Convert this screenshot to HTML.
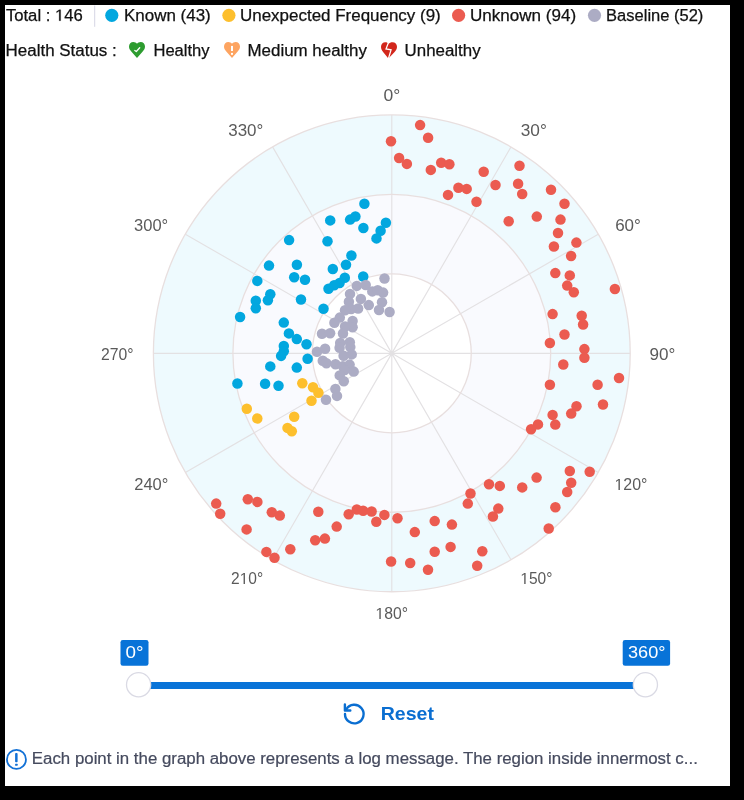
<!DOCTYPE html>
<html><head><meta charset="utf-8"><title>Log polar chart</title>
<style>
html,body{margin:0;padding:0;background:#000;width:744px;height:800px;overflow:hidden}
svg{display:block;font-family:"Liberation Sans",sans-serif;will-change:transform}
</style></head>
<body>
<svg width="744" height="800" viewBox="0 0 744 800">
<rect x="0" y="0" width="744" height="800" fill="#000"/>
<rect x="5" y="5" width="725" height="781" fill="#fff"/>
<line x1="94.7" y1="5.5" x2="94.7" y2="26.8" stroke="#d6d6e4" stroke-width="1"/>
<circle cx="111.8" cy="15.3" r="6.6" fill="#02a7df"/>
<circle cx="228.9" cy="15.3" r="6.6" fill="#fdbf2d"/>
<circle cx="458.6" cy="15.3" r="6.6" fill="#eb5b50"/>
<circle cx="594.5" cy="15.3" r="6.6" fill="#acacc4"/>
<g transform="translate(129 41.9)"><path d="M8 16.1 L2.3 9.6 C0.9 8.1 0 6.6 0 4.6 C0 1.9 1.9 0 4.3 0 C5.9 0 7.2 0.7 8 1.8 C8.8 0.7 10.1 0 11.7 0 C14.1 0 16 1.9 16 4.6 C16 6.6 15.1 8.1 13.7 9.6 Z" fill="#2d9c30"/><path d="M5.8 8.6 L7.3 9.6 L10.7 5.9" stroke="#fff" stroke-width="1.3" fill="none" stroke-linecap="round" stroke-linejoin="round"/></g><g transform="translate(224 41.9)"><path d="M8 16.1 L2.3 9.6 C0.9 8.1 0 6.6 0 4.6 C0 1.9 1.9 0 4.3 0 C5.9 0 7.2 0.7 8 1.8 C8.8 0.7 10.1 0 11.7 0 C14.1 0 16 1.9 16 4.6 C16 6.6 15.1 8.1 13.7 9.6 Z" fill="#fda461"/><rect x="7" y="4.0" width="2" height="5.1" fill="#fff"/><rect x="7" y="11.0" width="2" height="1.9" fill="#fff"/></g><g transform="translate(381 42.2)"><path d="M7.4 16.2 L2.1 9.7 C0.8 8.1 0 6.6 0 4.6 C0 1.9 1.9 0 4.3 0 C5.8 0 6.9 0.6 7.6 1.6 C8.4 0.6 9.8 0 11.6 0 C14.1 0 16 1.9 16 4.6 C16 6.6 15.1 8.2 13.6 9.8 Z" fill="#d2271c"/><path d="M7.4 0.6 L5.0 6.7 L10.1 7.6 L7.3 16.8" stroke="#fff" stroke-width="1.25" fill="none" stroke-linejoin="miter"/></g>
<circle cx="391.8" cy="353.35" r="238.4" fill="#eefafe"/>
<circle cx="391.8" cy="353.35" r="158.9" fill="#f9fafe"/>
<circle cx="391.8" cy="353.35" r="79.45" fill="#ffffff"/>
<path d="M391.8 353.35L391.8 114.95M391.8 353.35L511 146.89M391.8 353.35L598.26 234.15M391.8 353.35L630.2 353.35M391.8 353.35L598.26 472.55M391.8 353.35L511 559.81M391.8 353.35L391.8 591.75M391.8 353.35L272.6 559.81M391.8 353.35L185.34 472.55M391.8 353.35L153.4 353.35M391.8 353.35L185.34 234.15M391.8 353.35L272.6 146.89" stroke="#e3e1e3" stroke-width="1.15" fill="none"/>
<circle cx="391.8" cy="353.35" r="79.45" fill="none" stroke="#e8dfdf" stroke-width="1.3"/>
<circle cx="391.8" cy="353.35" r="158.9" fill="none" stroke="#e8dfdf" stroke-width="1.3"/>
<circle cx="391.8" cy="353.35" r="238.4" fill="none" stroke="#e8dfdf" stroke-width="1.3"/>
<g fill="#eb5b50"><circle cx="420.1" cy="125.1" r="5.25"/><circle cx="428.1" cy="137.8" r="5.25"/><circle cx="391" cy="141.3" r="5.25"/><circle cx="399.1" cy="158" r="5.25"/><circle cx="406.9" cy="163.9" r="5.25"/><circle cx="430.8" cy="169.9" r="5.25"/><circle cx="441.2" cy="162.8" r="5.25"/><circle cx="449.4" cy="164.3" r="5.25"/><circle cx="458.4" cy="187.7" r="5.25"/><circle cx="466.7" cy="188.9" r="5.25"/><circle cx="448" cy="194.9" r="5.25"/><circle cx="476.5" cy="201.7" r="5.25"/><circle cx="483.7" cy="171.7" r="5.25"/><circle cx="495.5" cy="185" r="5.25"/><circle cx="519.5" cy="165.8" r="5.25"/><circle cx="518.1" cy="183.7" r="5.25"/><circle cx="522.2" cy="194" r="5.25"/><circle cx="508.7" cy="221.2" r="5.25"/><circle cx="536.8" cy="216.6" r="5.25"/><circle cx="551" cy="189.7" r="5.25"/><circle cx="564.5" cy="203.8" r="5.25"/><circle cx="560.5" cy="219.6" r="5.25"/><circle cx="558" cy="233" r="5.25"/><circle cx="553.9" cy="246.5" r="5.25"/><circle cx="576.4" cy="242.6" r="5.25"/><circle cx="571.1" cy="256" r="5.25"/><circle cx="555.3" cy="273.1" r="5.25"/><circle cx="569.8" cy="275.4" r="5.25"/><circle cx="567.2" cy="285.6" r="5.25"/><circle cx="573.8" cy="292.2" r="5.25"/><circle cx="614.9" cy="289" r="5.25"/><circle cx="552.6" cy="314.1" r="5.25"/><circle cx="581.7" cy="315.7" r="5.25"/><circle cx="583.1" cy="324.5" r="5.25"/><circle cx="564.5" cy="334.5" r="5.25"/><circle cx="549.9" cy="343" r="5.25"/><circle cx="584.4" cy="349.1" r="5.25"/><circle cx="584.4" cy="357.8" r="5.25"/><circle cx="563.3" cy="364.5" r="5.25"/><circle cx="549.9" cy="384.7" r="5.25"/><circle cx="597.6" cy="384.7" r="5.25"/><circle cx="619" cy="378" r="5.25"/><circle cx="603" cy="404.5" r="5.25"/><circle cx="576.5" cy="406.3" r="5.25"/><circle cx="571.2" cy="413.6" r="5.25"/><circle cx="552.6" cy="414.9" r="5.25"/><circle cx="555.3" cy="424.6" r="5.25"/><circle cx="538" cy="424.4" r="5.25"/><circle cx="531.1" cy="429.2" r="5.25"/><circle cx="569.8" cy="471" r="5.25"/><circle cx="589.7" cy="471.7" r="5.25"/><circle cx="536.6" cy="477.6" r="5.25"/><circle cx="571.2" cy="482.8" r="5.25"/><circle cx="567.2" cy="492" r="5.25"/><circle cx="522.2" cy="487.4" r="5.25"/><circle cx="555.4" cy="507.3" r="5.25"/><circle cx="548.7" cy="528.5" r="5.25"/><circle cx="489" cy="484.2" r="5.25"/><circle cx="499.8" cy="485.9" r="5.25"/><circle cx="470.5" cy="493.5" r="5.25"/><circle cx="467.8" cy="503.6" r="5.25"/><circle cx="498.3" cy="508.6" r="5.25"/><circle cx="492.9" cy="516.5" r="5.25"/><circle cx="434.7" cy="521.1" r="5.25"/><circle cx="451.9" cy="524.6" r="5.25"/><circle cx="414.8" cy="532.1" r="5.25"/><circle cx="450.6" cy="546.9" r="5.25"/><circle cx="434.7" cy="551.7" r="5.25"/><circle cx="482.3" cy="551.3" r="5.25"/><circle cx="477.2" cy="565.7" r="5.25"/><circle cx="410.2" cy="563" r="5.25"/><circle cx="428" cy="569.7" r="5.25"/><circle cx="348.7" cy="514.2" r="5.25"/><circle cx="356.8" cy="509.5" r="5.25"/><circle cx="363.1" cy="510.8" r="5.25"/><circle cx="371.6" cy="511.5" r="5.25"/><circle cx="376.3" cy="521.7" r="5.25"/><circle cx="384.4" cy="514.9" r="5.25"/><circle cx="397.5" cy="518.2" r="5.25"/><circle cx="391.1" cy="561.5" r="5.25"/><circle cx="318.3" cy="511.7" r="5.25"/><circle cx="336.7" cy="526.6" r="5.25"/><circle cx="324.9" cy="538.6" r="5.25"/><circle cx="315.2" cy="540.2" r="5.25"/><circle cx="290.3" cy="549.2" r="5.25"/><circle cx="266.4" cy="551.9" r="5.25"/><circle cx="274.5" cy="557.7" r="5.25"/><circle cx="271.8" cy="512.3" r="5.25"/><circle cx="279.8" cy="515.6" r="5.25"/><circle cx="257.4" cy="501.9" r="5.25"/><circle cx="216.2" cy="503.6" r="5.25"/><circle cx="220.2" cy="513.7" r="5.25"/><circle cx="247.8" cy="499.2" r="5.25"/><circle cx="246.6" cy="529.4" r="5.25"/></g>
<g fill="#02a7df"><circle cx="289.1" cy="240.1" r="5.25"/><circle cx="269" cy="265.6" r="5.25"/><circle cx="296.9" cy="264.8" r="5.25"/><circle cx="294.2" cy="277.3" r="5.25"/><circle cx="305" cy="279.7" r="5.25"/><circle cx="257.3" cy="280.9" r="5.25"/><circle cx="270.3" cy="294.3" r="5.25"/><circle cx="364.4" cy="203.7" r="5.25"/><circle cx="330.2" cy="220.4" r="5.25"/><circle cx="350.1" cy="219.6" r="5.25"/><circle cx="355.4" cy="216.5" r="5.25"/><circle cx="363.4" cy="228" r="5.25"/><circle cx="385.9" cy="222.8" r="5.25"/><circle cx="380.6" cy="230.7" r="5.25"/><circle cx="376.5" cy="238.4" r="5.25"/><circle cx="327.5" cy="241.3" r="5.25"/><circle cx="351.4" cy="255.5" r="5.25"/><circle cx="346" cy="264.8" r="5.25"/><circle cx="332.8" cy="269" r="5.25"/><circle cx="363.2" cy="276.5" r="5.25"/><circle cx="344.8" cy="277.8" r="5.25"/><circle cx="339.6" cy="283" r="5.25"/><circle cx="334.2" cy="285.2" r="5.25"/><circle cx="328.5" cy="288.8" r="5.25"/><circle cx="323.5" cy="308.7" r="5.25"/><circle cx="267.9" cy="300.2" r="5.25"/><circle cx="255.8" cy="300.8" r="5.25"/><circle cx="255.8" cy="308.2" r="5.25"/><circle cx="240.1" cy="317" r="5.25"/><circle cx="301" cy="299.5" r="5.25"/><circle cx="283.8" cy="322.6" r="5.25"/><circle cx="288.9" cy="333.4" r="5.25"/><circle cx="296.8" cy="339.1" r="5.25"/><circle cx="306.5" cy="344.2" r="5.25"/><circle cx="283.8" cy="345.9" r="5.25"/><circle cx="283.8" cy="351.2" r="5.25"/><circle cx="281.1" cy="355.9" r="5.25"/><circle cx="307.6" cy="358.7" r="5.25"/><circle cx="270.3" cy="366.4" r="5.25"/><circle cx="296.8" cy="367.6" r="5.25"/><circle cx="237.4" cy="383.5" r="5.25"/><circle cx="265.1" cy="383.8" r="5.25"/><circle cx="278.5" cy="385.8" r="5.25"/></g>
<g fill="#fdbf2d"><circle cx="302.3" cy="383.2" r="5.25"/><circle cx="313" cy="387.2" r="5.25"/><circle cx="318.4" cy="392.8" r="5.25"/><circle cx="311.5" cy="400.8" r="5.25"/><circle cx="246.8" cy="408.7" r="5.25"/><circle cx="257.3" cy="418.5" r="5.25"/><circle cx="294.2" cy="416.7" r="5.25"/><circle cx="287.5" cy="427.9" r="5.25"/><circle cx="291.8" cy="431.2" r="5.25"/></g>
<g fill="#acacc4"><circle cx="384.5" cy="278.5" r="5.25"/><circle cx="356.8" cy="285.9" r="5.25"/><circle cx="365.7" cy="285" r="5.25"/><circle cx="372.3" cy="291.4" r="5.25"/><circle cx="377.7" cy="290.2" r="5.25"/><circle cx="383.1" cy="292.6" r="5.25"/><circle cx="350" cy="293.9" r="5.25"/><circle cx="360.9" cy="298.9" r="5.25"/><circle cx="348.9" cy="301.8" r="5.25"/><circle cx="382" cy="302.3" r="5.25"/><circle cx="368.8" cy="305.1" r="5.25"/><circle cx="358.1" cy="308.5" r="5.25"/><circle cx="351.1" cy="309" r="5.25"/><circle cx="345" cy="310.2" r="5.25"/><circle cx="379" cy="310" r="5.25"/><circle cx="389.6" cy="312" r="5.25"/><circle cx="339.8" cy="317.6" r="5.25"/><circle cx="334.4" cy="322.7" r="5.25"/><circle cx="352.6" cy="321" r="5.25"/><circle cx="352.6" cy="327.3" r="5.25"/><circle cx="345.1" cy="326.5" r="5.25"/><circle cx="322" cy="333.8" r="5.25"/><circle cx="330.1" cy="333.2" r="5.25"/><circle cx="343" cy="333.5" r="5.25"/><circle cx="340.2" cy="342.9" r="5.25"/><circle cx="349.8" cy="342.3" r="5.25"/><circle cx="339.6" cy="347.8" r="5.25"/><circle cx="350.3" cy="347.1" r="5.25"/><circle cx="317" cy="351.8" r="5.25"/><circle cx="325.1" cy="348.8" r="5.25"/><circle cx="343.6" cy="355.8" r="5.25"/><circle cx="351.7" cy="354.4" r="5.25"/><circle cx="322.8" cy="360.8" r="5.25"/><circle cx="326.4" cy="363.3" r="5.25"/><circle cx="335.5" cy="364.2" r="5.25"/><circle cx="342.9" cy="366.2" r="5.25"/><circle cx="349.6" cy="364.6" r="5.25"/><circle cx="353.7" cy="371.6" r="5.25"/><circle cx="344.7" cy="370.1" r="5.25"/><circle cx="339.7" cy="375.4" r="5.25"/><circle cx="343.8" cy="381.2" r="5.25"/><circle cx="335.4" cy="389" r="5.25"/><circle cx="337" cy="395.9" r="5.25"/><circle cx="326" cy="399.8" r="5.25"/></g>
<!-- slider -->
<rect x="138.6" y="682" width="506.8" height="7" fill="#0873d8"/>
<rect x="120.5" y="640" width="28" height="25.7" rx="2.3" fill="#0873d8"/>
<rect x="622.7" y="640.1" width="47.4" height="25.6" rx="2.3" fill="#0873d8"/>
<circle cx="138.6" cy="684.7" r="12.1" fill="#fff" stroke="#dadae4" stroke-width="1.3"/>
<circle cx="645.4" cy="684.7" r="12.1" fill="#fff" stroke="#dadae4" stroke-width="1.3"/>
<!-- reset -->
<g stroke="#0a6ed1" stroke-width="2.4" fill="none" stroke-linecap="round" stroke-linejoin="round">
<path d="M345.0 713.9 A9.3 9.3 0 1 0 346.3 709.3"/>
<path d="M344.9 704.5 V710.5 H350.3"/>
</g>
<!-- footer -->
<circle cx="16.45" cy="759.45" r="9.5" fill="none" stroke="#1271d6" stroke-width="1.8"/>
<rect x="15.1" y="753.1" width="2.5" height="9.2" rx="0.8" fill="#1271d6"/>
<rect x="15.1" y="763.7" width="2.5" height="2.1" rx="0.5" fill="#1271d6"/>
<text id="t_total" x="5.9" y="20.7" font-size="16" fill="#111111" stroke="#111111" stroke-width="0.25" textLength="76.89" lengthAdjust="spacingAndGlyphs">Total :  46</text>
<text id="t_known" x="123.97" y="20.7" font-size="16" fill="#111111" stroke="#111111" stroke-width="0.25" textLength="86.77" lengthAdjust="spacingAndGlyphs">Known (43)</text>
<text id="t_unexp" x="240.02" y="20.7" font-size="16" fill="#111111" stroke="#111111" stroke-width="0.25" textLength="200.74" lengthAdjust="spacingAndGlyphs">Unexpected Frequency (9)</text>
<text id="t_unk" x="469.97" y="20.7" font-size="16" fill="#111111" stroke="#111111" stroke-width="0.25" textLength="106.14" lengthAdjust="spacingAndGlyphs">Unknown (94)</text>
<text id="t_base" x="606.12" y="20.7" font-size="16" fill="#111111" stroke="#111111" stroke-width="0.25" textLength="97.25" lengthAdjust="spacingAndGlyphs">Baseline (52)</text>
<text id="t_hs" x="5.61" y="56.1" font-size="16" fill="#111111" stroke="#111111" stroke-width="0.25" textLength="111.16" lengthAdjust="spacingAndGlyphs">Health Status :</text>
<text id="t_h" x="153.45" y="56.1" font-size="16" fill="#111111" stroke="#111111" stroke-width="0.25" textLength="56.08" lengthAdjust="spacingAndGlyphs">Healthy</text>
<text id="t_mh" x="247.52" y="56.1" font-size="16" fill="#111111" stroke="#111111" stroke-width="0.25" textLength="119.4" lengthAdjust="spacingAndGlyphs">Medium healthy</text>
<text id="t_uh" x="404.63" y="56.1" font-size="16" fill="#111111" stroke="#111111" stroke-width="0.25" textLength="75.98" lengthAdjust="spacingAndGlyphs">Unhealthy</text>
<text id="a0" x="383.61" y="101" font-size="16" fill="#5a5a5a" textLength="16.75" lengthAdjust="spacingAndGlyphs">0°</text>
<text id="a30" x="520.75" y="136" font-size="16" fill="#5a5a5a" textLength="26.08" lengthAdjust="spacingAndGlyphs">30°</text>
<text id="a60" x="615.15" y="231" font-size="16" fill="#5a5a5a" textLength="25.71" lengthAdjust="spacingAndGlyphs">60°</text>
<text id="a90" x="649.63" y="360" font-size="16" fill="#5a5a5a" textLength="25.82" lengthAdjust="spacingAndGlyphs">90°</text>
<text id="a120" x="614.47" y="490" font-size="16" fill="#5a5a5a" textLength="32.89" lengthAdjust="spacingAndGlyphs"> 20°</text>
<text id="a150" x="520.32" y="584" font-size="16" fill="#5a5a5a" textLength="32.09" lengthAdjust="spacingAndGlyphs"> 50°</text>
<text id="a180" x="375.39" y="619" font-size="16" fill="#5a5a5a" textLength="32.55" lengthAdjust="spacingAndGlyphs"> 80°</text>
<text id="a210" x="231.04" y="584" font-size="16" fill="#5a5a5a" textLength="32.12" lengthAdjust="spacingAndGlyphs">2 0°</text>
<text id="a240" x="134.25" y="490" font-size="16" fill="#5a5a5a" textLength="34.13" lengthAdjust="spacingAndGlyphs">240°</text>
<text id="a270" x="100.91" y="360" font-size="16" fill="#5a5a5a" textLength="32.52" lengthAdjust="spacingAndGlyphs">270°</text>
<text id="a300" x="134.08" y="231" font-size="16" fill="#5a5a5a" textLength="34.13" lengthAdjust="spacingAndGlyphs">300°</text>
<text id="a330" x="228.25" y="136" font-size="16" fill="#5a5a5a" textLength="35.07" lengthAdjust="spacingAndGlyphs">330°</text>
<text id="s0" x="125.43" y="657.9" font-size="16.5" fill="#fff" textLength="18.04" lengthAdjust="spacingAndGlyphs">0°</text>
<text id="s360" x="628.01" y="658" font-size="16.5" fill="#fff" textLength="37.49" lengthAdjust="spacingAndGlyphs">360°</text>
<text id="reset" x="380.71" y="720.2" font-size="19" font-weight="bold" fill="#0a6ed1" textLength="53.19" lengthAdjust="spacingAndGlyphs">Reset</text>
<text id="foot" x="31.87" y="763.8" font-size="16" fill="#454a5e" stroke="#454a5e" stroke-width="0.2" textLength="665.96" lengthAdjust="spacingAndGlyphs">Each point in the graph above represents a log message. The region inside innermost c...</text>
<path d="M515 0L696 0L696 1409L530 1409L197 1180L197 1010L515 1237Z" transform="translate(54.98 20.70) scale(0.00814 -0.00781)" fill="#111111" stroke="#111111" stroke-width="0.25" vector-effect="non-scaling-stroke"/>
<path d="M515 0L696 0L696 1409L530 1409L197 1180L197 1010L515 1237Z" transform="translate(614.47 490.00) scale(0.00777 -0.00781)" fill="#5a5a5a"/>
<path d="M515 0L696 0L696 1409L530 1409L197 1180L197 1010L515 1237Z" transform="translate(520.32 584.00) scale(0.00758 -0.00781)" fill="#5a5a5a"/>
<path d="M515 0L696 0L696 1409L530 1409L197 1180L197 1010L515 1237Z" transform="translate(375.39 619.00) scale(0.00769 -0.00781)" fill="#5a5a5a"/>
<path d="M515 0L696 0L696 1409L530 1409L197 1180L197 1010L515 1237Z" transform="translate(239.67 584.00) scale(0.00759 -0.00781)" fill="#5a5a5a"/>
</svg>
</body></html>
